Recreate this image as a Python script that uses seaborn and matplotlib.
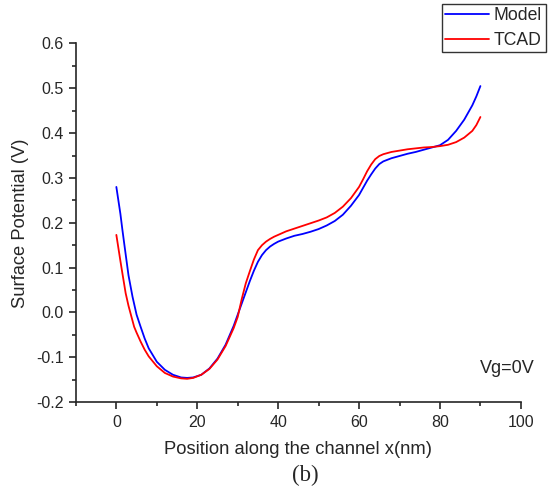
import matplotlib

matplotlib.use("Agg")
import matplotlib.pyplot as plt
import pandas as pd
import seaborn as sns
from matplotlib.ticker import MultipleLocator

# Surface potential along the channel.
MODEL_X = [0, 1, 1.5, 2, 3, 4, 5, 6, 7, 8, 10, 12, 14, 16, 17.5, 19, 21, 23, 25, 27,
           29, 30, 31, 32, 33, 34, 35, 36, 37, 38, 39, 40, 42, 44, 46, 48, 50, 52, 54,
           56, 58, 60, 61, 62, 63, 64, 65, 66, 68, 70, 72, 74, 76, 78, 80, 82, 84, 86,
           88, 89, 90]
MODEL_V = [0.280, 0.220, 0.184, 0.150, 0.083, 0.035, -0.005, -0.032, -0.058, -0.080,
           -0.110, -0.128, -0.139, -0.145, -0.146, -0.145, -0.139, -0.125, -0.103,
           -0.072, -0.030, -0.005, 0.020, 0.045, 0.070, 0.093, 0.113, 0.128, 0.139,
           0.147, 0.153, 0.158, 0.165, 0.171, 0.175, 0.180, 0.186, 0.194, 0.204, 0.218,
           0.238, 0.262, 0.278, 0.294, 0.308, 0.321, 0.331, 0.337, 0.344, 0.349, 0.354,
           0.358, 0.363, 0.368, 0.373, 0.385, 0.405, 0.430, 0.462, 0.482, 0.505]

TCAD_X = [0, 1, 1.5, 2.3, 3, 4.4, 5, 6, 7, 8, 10, 12, 14, 16, 17.5, 19, 21, 23, 25, 27,
          29, 30, 31, 32, 33, 34, 35, 36, 37, 38, 39, 40, 42, 44, 46, 48, 50, 52, 54,
          56, 58, 60, 61, 62, 63, 64, 65, 66, 68, 70, 72, 74, 76, 78, 80, 82, 84, 86,
          88, 89, 90]
TCAD_V = [0.173, 0.115, 0.087, 0.043, 0.015, -0.032, -0.045, -0.065, -0.083, -0.098,
          -0.120, -0.135, -0.143, -0.147, -0.148, -0.146, -0.139, -0.126, -0.105,
          -0.075, -0.035, -0.010, 0.030, 0.065, 0.092, 0.118, 0.139, 0.150, 0.158,
          0.164, 0.169, 0.173, 0.181, 0.187, 0.193, 0.199, 0.205, 0.212, 0.222, 0.236,
          0.255, 0.280, 0.297, 0.315, 0.330, 0.342, 0.349, 0.353, 0.358, 0.361, 0.364,
          0.366, 0.368, 0.369, 0.371, 0.374, 0.380, 0.390, 0.405, 0.418, 0.436]

X_TICKS = [0, 20, 40, 60, 80, 100]
Y_TICKS = [-0.2, -0.1, 0.0, 0.1, 0.2, 0.3, 0.4, 0.5, 0.6]
SERIES = ["Model", "TCAD"]
COLORS = {"Model": "#0000FF", "TCAD": "#FF0000"}


def main() -> None:
    sns.set_style("ticks")
    plt.rcParams.update(
        {
            "font.family": ["Liberation Sans", "DejaVu Sans"],
            "axes.linewidth": 1.2,
            "xtick.direction": "out",
            "ytick.direction": "out",
        }
    )

    data = pd.concat(
        [
            pd.DataFrame({"x": MODEL_X, "v": MODEL_V, "series": "Model"}),
            pd.DataFrame({"x": TCAD_X, "v": TCAD_V, "series": "TCAD"}),
        ],
        ignore_index=True,
    )

    fig = plt.figure(figsize=(5.5, 4.94), dpi=100)
    ax = fig.add_axes([0.138, 0.186, 0.809, 0.726])
    sns.lineplot(
        data=data,
        x="x",
        y="v",
        hue="series",
        palette=COLORS,
        linewidth=1.3,
        sort=False,
        ax=ax,
        legend=False,
    )
    sns.despine(ax=ax)

    ax.set_xlim(-10, 100)
    ax.set_ylim(-0.2, 0.6)
    ax.set_xticks(X_TICKS)
    ax.set_yticks(Y_TICKS)
    ax.set_yticklabels([f"{t:.1f}" for t in Y_TICKS])
    ax.xaxis.set_minor_locator(MultipleLocator(10))
    ax.yaxis.set_minor_locator(MultipleLocator(0.05))
    ax.tick_params(which="major", length=5, width=1.2, labelsize=11.5, pad=4)
    ax.tick_params(which="minor", length=3, width=1.2)
    ax.set_xlabel("Position along the channel x(nm)", fontsize=13.2, labelpad=8)
    ax.set_ylabel("Surface Potential (V)", fontsize=13.2, labelpad=5)

    ax.text(1.03, 0.094, "Vg=0V", transform=ax.transAxes, ha="right",
            va="center", fontsize=13)

    handles = [plt.Line2D([], [], color=COLORS[name], linewidth=1.3) for name in SERIES]
    leg = fig.legend(
        handles,
        SERIES,
        loc="upper right",
        bbox_to_anchor=(0.992, 0.992),
        frameon=True,
        fancybox=False,
        fontsize=12.7,
        handlelength=2.45,
        handletextpad=0.3,
        borderpad=0.2,
        labelspacing=0.42,
        borderaxespad=0.0,
    )
    leg.get_frame().set_edgecolor("black")
    leg.get_frame().set_linewidth(1.0)

    fig.text(0.555, 0.038, "(b)", ha="center", va="center", fontsize=16.5,
             family=["Liberation Serif", "DejaVu Serif"])

    fig.savefig("out.png", dpi=100, facecolor="white")


if __name__ == "__main__":
    main()
